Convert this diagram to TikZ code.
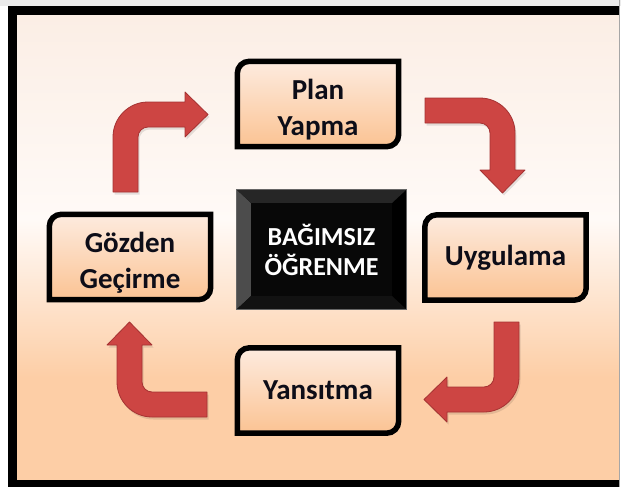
\documentclass[tikz,border=0pt]{standalone}
\usepackage{fontspec}
\setmainfont{Carlito}
\usetikzlibrary{backgrounds,calc}

\definecolor{bgtop}{HTML}{FBEEE5}
\definecolor{bgmid}{HTML}{FFFAF7}
\definecolor{bgbot}{HTML}{FDCEA6}
\definecolor{boxtop}{HTML}{FDEBDF}
\definecolor{boxbot}{HTML}{FBC393}
\definecolor{arrowred}{HTML}{CD4543}
\definecolor{arrowedge}{HTML}{A53232}
\definecolor{inktext}{HTML}{0D0D18}

% page background: white near the top, peach towards the bottom
\pgfdeclareverticalshading{framebg}{100bp}{color(0bp)=(bgbot); color(36bp)=(bgbot); color(53bp)=(bgmid); color(75bp)=(bgtop); color(100bp)=(bgtop)}

\tikzset{
  stepbox/.style={minimum width=161pt, minimum height=85pt, inner sep=0pt,
    align=center, text=inktext, font=\bfseries\fontsize{29}{36}\selectfont},
  corebox/.style={minimum width=169pt, minimum height=119pt, inner sep=0pt,
    align=center, text=white, font=\bfseries\fontsize{26}{30}\selectfont},
  boxline/.style={draw=black, line width=5.5pt, top color=boxtop, bottom color=boxbot},
  boxshadow/.style={fill=black, opacity=0.13},
  bentarrow/.style={fill=arrowred, draw=arrowedge, line width=0.8pt, line join=round},
  arrowshadow/.style={fill=black, opacity=0.10},
}

% rectangle with rounded top-left and bottom-right corners around a node
\newcommand{\diagoutline}[1]{%
  ($(#1.north west)+(0,12)$) .. controls ($(#1.north west)+(0,5.4)$) and ($(#1.north west)+(5.4,0)$) .. ($(#1.north west)+(12,0)$)
  -- (#1.north east) -- ($(#1.south east)+(0,-12)$)
  .. controls ($(#1.south east)+(0,-5.4)$) and ($(#1.south east)+(-5.4,0)$) .. ($(#1.south east)+(-12,0)$)
  -- (#1.south west) -- cycle}

% bent block arrow: corner at the origin, tail along y, head along x
\newcommand{\bentpath}{%
  (0,90) -- (0,35) .. controls (0,15.7) and (15.7,0) .. (35,0) -- (72,0) -- (72,-10)
  -- (95,12.5) -- (72,35) -- (72,25) -- (35,25) .. controls (29.5,25) and (25,29.5) .. (25,35)
  -- (25,90) -- cycle}

\newcommand{\drawbent}[1]{%
  \begin{scope}[#1]
    \fill[arrowshadow, shift={(1.5pt,-2.5pt)}] \bentpath;
    \filldraw[bentarrow] \bentpath;
  \end{scope}}

\begin{document}
\begin{tikzpicture}[x=1pt, y=-1pt]
  \useasboundingbox (0,0) rectangle (621,487);

  % stages of the cycle
  \node[stepbox] (plan) at (318,104)   {\\[-4pt]Plan\\Yapma};
  \node[stepbox] (uyg)  at (505.5,257.5) {Uygulama};
  \node[stepbox] (yans) at (318,390.5) {Yansıtma};
  \node[stepbox] (goz)  at (130,257)   {\\[-4pt]Gözden\\Geçirme};

  % central topic
  \node[corebox] (core) at (321.5,249.5) {BAĞIMSIZ\\ÖĞRENME};

  \begin{scope}[on background layer]
    % frame and page
    \fill[white] (0,0) rectangle (621,487);
    \fill[black!8] (0,0) rectangle (621,6);
    \fill[black] (8,6) rectangle (619,487);
    \shade[shading=framebg] (17,16) rectangle (619,479);
    \draw[black!35, line width=1pt] (619.5,0) -- (619.5,487);

    % stage boxes
    \foreach \n in {plan,uyg,yans,goz}{
      \fill[boxshadow, shift={(3pt,-4pt)}] \diagoutline{\n};
      \path[boxline] \diagoutline{\n};
    }

    % bevelled black centre block
    \fill[black] (core.north west) rectangle (core.south east);
    \fill[black!70] (core.north west) -- (core.south west)
      -- ($(core.south west)+(14,-13)$) -- ($(core.north west)+(14,13)$) -- cycle;
    \fill[black!85] (core.north west) -- (core.north east)
      -- ($(core.north east)+(-14,13)$) -- ($(core.north west)+(14,13)$) -- cycle;
    \fill[black!93] (core.south west) -- (core.south east)
      -- ($(core.south east)+(-14,-13)$) -- ($(core.south west)+(14,-13)$) -- cycle;
    \fill[black!97] ($(core.north west)+(14,13)$) rectangle ($(core.south east)+(-14,-13)$);
    \draw[black!60, line width=0.8pt] (core.north west) rectangle (core.south east);
  \end{scope}

  % four bent arrows turning clockwise
  \drawbent{shift={(113,102)}, x={(1pt,0pt)},  y={(0pt,-1pt)}}
  \drawbent{shift={(515,98)},  x={(0pt,-1pt)}, y={(-1pt,0pt)}}
  \drawbent{shift={(519,412)}, x={(-1pt,0pt)}, y={(0pt,1pt)}}
  \drawbent{shift={(117,417)}, x={(0pt,1pt)},  y={(1pt,0pt)}}
\end{tikzpicture}
\end{document}
